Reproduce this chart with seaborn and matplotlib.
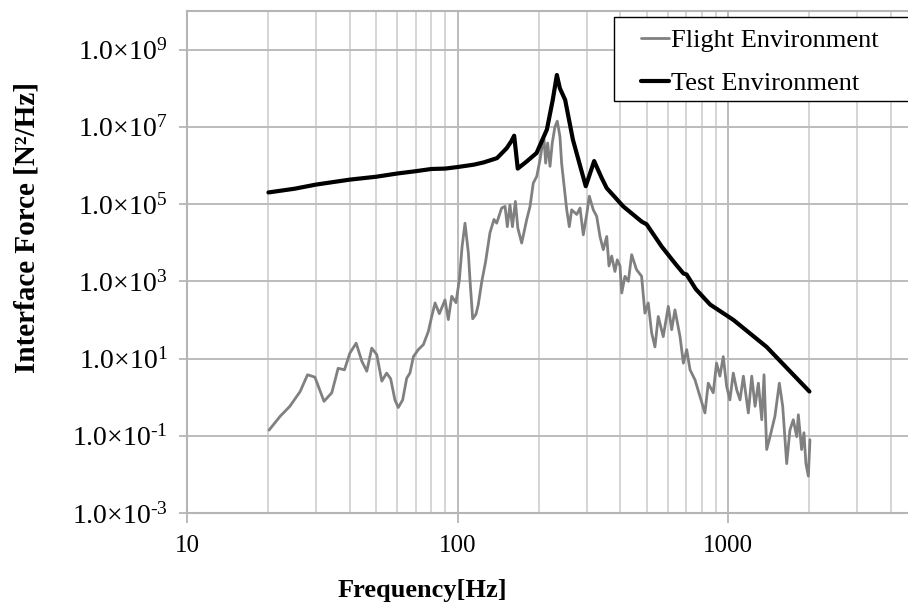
import matplotlib
matplotlib.use("Agg")
import matplotlib.pyplot as plt
import pandas as pd
import seaborn as sns
from matplotlib.ticker import FixedLocator, FixedFormatter, LogLocator, NullLocator, NullFormatter
from matplotlib.patches import Rectangle

# Test environment (envelope) PSD, Hz -> N^2/Hz
test_freq = [20, 25, 30, 40, 50, 60, 70, 80, 90, 100,
             115, 125, 140, 152, 158, 162, 167, 180, 196, 214,
             225, 233, 239, 250, 267, 285, 298, 320, 340, 356,
             410, 480, 500, 569, 640, 684, 703, 760, 859, 1047,
             1389, 2000]
test_psd = [2.0e5, 2.5e5, 3.2e5, 4.3e5, 5.1e5, 6.2e5, 7.1e5, 8.1e5, 8.3e5, 9.1e5,
            1.05e6, 1.2e6, 1.55e6, 2.8e6, 4.2e6, 5.9e6, 8.3e5, 1.26e6, 2.1e6, 8.5e6,
            5.0e7, 2.2e8, 1.0e8, 5.0e7, 4.7e6, 8.9e5, 2.9e5, 1.3e6, 5.0e5, 2.6e5,
            8.7e4, 3.5e4, 3.0e4, 7.9e3, 2.8e3, 1.6e3, 1.5e3, 6.3e2, 2.5e2, 1.0e2,
            2.0e1, 1.4]

# Flight environment PSD, Hz -> N^2/Hz
flight_freq = [20.1, 22.1, 24.0, 26.2, 27.9, 29.7, 32.1, 34.3, 36.2, 38.2,
               40.0, 42.2, 44.3, 46.2, 48.2, 50.3, 52.5, 54.7, 56.6, 58.7,
               60.4, 62.7, 64.9, 66.7, 68.7, 71.6, 74.8, 78.0, 80.3, 82.6,
               85.7, 89.9, 92.5, 95.2, 98.7, 101.6, 104.0, 106.6, 109.7, 111.2,
               113.8, 117.0, 119.3, 123.0, 127.0, 131.8, 136.4, 139.6, 145.6, 149.9,
               152.8, 156.3, 159.6, 163.7, 167.1, 172.7, 180.3, 185.4, 190.6, 196.3,
               201.8, 204.7, 208.9, 211.8, 215.4, 219.8, 224.0, 229.2, 233.8, 239.2,
               242.6, 249.6, 253.4, 259.0, 264.3, 275.9, 283.8, 291.8, 300.4, 307.1,
               317.7, 327.0, 336.3, 345.9, 356.2, 363.1, 371.5, 382.0, 389.7, 398.8,
               404.7, 416.0, 428.2, 440.4, 459.1, 479.3, 493.0, 507.1, 522.1, 537.0,
               552.3, 576.2, 601.6, 619.1, 636.6, 664.7, 683.9, 703.7, 724.0, 755.2,
               787.5, 821.8, 845.2, 881.9, 907.2, 933.3, 960.5, 988.6, 1016, 1046,
               1077, 1108, 1140, 1189, 1224, 1259, 1295, 1333, 1359, 1390,
               1430, 1491, 1548, 1593, 1648, 1694, 1743, 1795, 1820, 1871,
               1909, 1941, 1982, 2009]
flight_psd = [0.14, 0.32, 0.58, 1.4, 3.8, 3.3, 0.78, 1.3, 5.6, 5.1,
              13.8, 25, 8.5, 4.7, 18.6, 12.6, 2.6, 4.2, 3.0, 0.85,
              0.54, 0.85, 3.1, 4.2, 11.2, 17, 23, 50, 123, 275,
              145, 330, 102, 410, 280, 1100, 8000, 3.2e4, 5400, 1100,
              107, 140, 245, 1000, 3200, 1.8e4, 4.0e4, 3.2e4, 7.9e4, 8.7e4,
              2.6e4, 9.5e4, 2.6e4, 1.17e5, 2.4e4, 9.8e3, 4.0e4, 8.7e4, 3.5e5, 5.2e5,
              1.4e6, 2.6e6, 4.7e6, 1.15e6, 3.8e6, 9.5e5, 3.8e6, 1.0e7, 1.4e7, 5.6e6,
              1.15e6, 1.9e5, 7.1e4, 2.6e4, 7.1e4, 5.4e4, 7.9e4, 1.6e4, 5.4e4, 1.6e5,
              7.1e4, 4.8e4, 1.45e4, 6.6e3, 1.45e4, 2.5e3, 4.5e3, 1.8e3, 3.6e3, 2.5e3,
              500, 1.35e3, 1.0e3, 4.9e3, 2.0e3, 1.35e3, 150, 275, 46, 20,
              123, 37, 224, 56, 182, 37, 7.6, 17, 5.1, 2.8,
              1.05, 0.39, 2.3, 1.3, 7.6, 3.5, 11.2, 1.9, 0.85, 4.2,
              1.55, 0.85, 3.5, 0.39, 3.5, 0.58, 2.3, 0.26, 3.8, 0.044,
              0.095, 0.32, 2.3, 0.58, 0.019, 0.14, 0.26, 0.095, 0.35, 0.044,
              0.12, 0.019, 0.009, 0.079]

xtick_values = [10, 100, 1000]
xtick_labels = ["10", "100", "1000"]
ytick_values = [1e-3, 1e-1, 1e1, 1e3, 1e5, 1e7, 1e9]
ytick_labels = [r"$\mathregular{1.0×10^{\text{-}3}}$", r"$\mathregular{1.0×10^{\text{-}1}}$",
                r"$\mathregular{1.0×10^{1}}$", r"$\mathregular{1.0×10^{3}}$",
                r"$\mathregular{1.0×10^{5}}$", r"$\mathregular{1.0×10^{7}}$",
                r"$\mathregular{1.0×10^{9}}$"]

sns.set_theme(style="whitegrid")
plt.rcParams["font.family"] = ["Liberation Serif", "DejaVu Serif"]
plt.rcParams["mathtext.fontset"] = "custom"
plt.rcParams["mathtext.rm"] = "Liberation Serif"
plt.rcParams["mathtext.it"] = "Liberation Serif:italic"
plt.rcParams["mathtext.bf"] = "Liberation Serif:bold"

W, H = 908, 607
fig = plt.figure(figsize=(W / 100, H / 100), dpi=100)
fig.patch.set_facecolor("white")
# the frequency axis runs to 10 kHz; the figure edge cuts it off a little past 4 kHz
ax = fig.add_axes([187 / W, 1 - 513 / H, (998.5 - 187) / W, (513 - 11) / H])
ax.set_facecolor("white")
ax.set_xscale("log")
ax.set_yscale("log")
ax.set_xlim(10, 10000)
ax.set_ylim(1e-3, 1e10)

flight = pd.DataFrame({"Frequency": flight_freq, "PSD": flight_psd})
test = pd.DataFrame({"Frequency": test_freq, "PSD": test_psd})
sns.lineplot(data=flight, x="Frequency", y="PSD", ax=ax, color="#808080",
             linewidth=2.0, estimator=None, sort=False, label="Flight Environment")
sns.lineplot(data=test, x="Frequency", y="PSD", ax=ax, color="black",
             linewidth=3.0, estimator=None, sort=False, label="Test Environment")

ax.xaxis.set_major_locator(FixedLocator(xtick_values))
ax.xaxis.set_major_formatter(FixedFormatter(xtick_labels))
ax.xaxis.set_minor_locator(LogLocator(base=10, subs=range(2, 10), numticks=20))
ax.xaxis.set_minor_formatter(NullFormatter())
ax.yaxis.set_major_locator(FixedLocator(ytick_values))
ax.yaxis.set_major_formatter(FixedFormatter(ytick_labels))
ax.yaxis.set_minor_locator(NullLocator())

ax.grid(which="major", axis="both", color="#bcbcbc", linewidth=1.4)
ax.grid(which="minor", axis="x", color="#d2d2d2", linewidth=1.3)
for s in ax.spines.values():
    s.set_color("#b5b5b5")
    s.set_linewidth(1.5)

ax.tick_params(axis="x", which="major", bottom=True, length=7, width=1.3,
               color="#b5b5b5", labelsize=18, pad=9, labelcolor="black")
ax.tick_params(axis="x", which="minor", bottom=False, length=0)
ax.tick_params(axis="y", which="major", left=True, length=6, width=1.3,
               color="#b5b5b5", labelsize=20, pad=8, labelcolor="black")

ax.set_xlabel("Frequency[Hz]", fontsize=19, fontweight="bold", color="black")
ax.set_ylabel("Interface Force [N²/Hz]", fontsize=21, fontweight="bold", color="black")
ax.xaxis.set_label_coords(0.29, -0.132)
ax.yaxis.set_label_coords(-0.181, 0.568)

leg = ax.legend(loc="upper left", bbox_to_anchor=(641 / W, 1 - 29 / H),
                bbox_transform=fig.transFigure, frameon=False, fontsize=19,
                handlelength=1.05, handletextpad=0.08, labelspacing=0.72,
                borderpad=0, borderaxespad=0)
for t in leg.get_texts():
    t.set_color("black")
ax.add_patch(Rectangle((614 / W, 1 - 101 / H), 400 / W, 84 / H,
                       transform=fig.transFigure, facecolor="white",
                       edgecolor="black", linewidth=1.0, zorder=4, clip_on=False))
leg.set_zorder(5)

fig.savefig("out.png", dpi=100, facecolor="white")
